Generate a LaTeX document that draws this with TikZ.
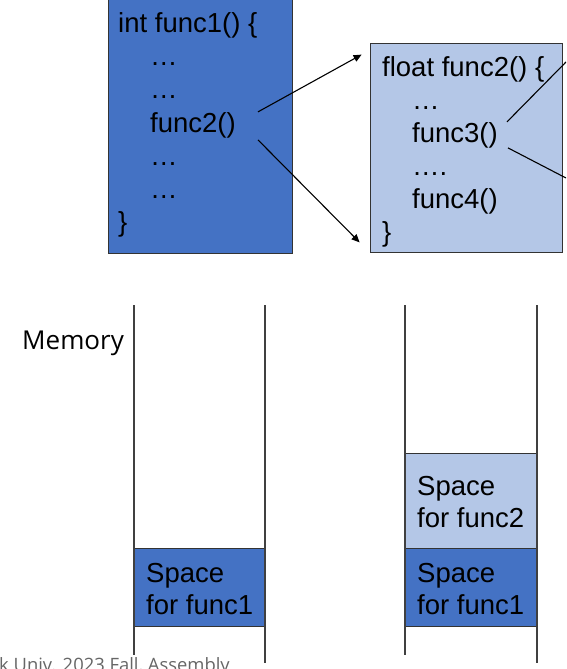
\documentclass[tikz,border=0pt]{standalone}
\usepackage{fontspec}
\setmainfont{Liberation Sans}
\newfontfamily\footfont{Open Sans}
\usetikzlibrary{arrows.meta,calc}
\definecolor{darkblue}{HTML}{4472C4}
\definecolor{lightblue}{HTML}{B4C7E7}
\tikzset{
  codebox/.style={draw=black!80, line width=0.8pt, inner sep=0pt},
  codeline/.style={anchor=base west, inner sep=0pt, font=\fontsize{27.5}{33}\selectfont},
  callarrow/.style={line width=1.1pt, -{Triangle[length=8pt, width=7pt]}},
  stackline/.style={black!75, line width=1.2pt}
}
\begin{document}
\begin{tikzpicture}[x=1pt, y=-1pt]
    \useasboundingbox (0,0) rectangle (566,669);
    \fill[white] (0,0) rectangle (566,669);
    \clip (0,0) rectangle (566,669);
    % code of func1
    \node[codebox, fill=darkblue, minimum width=184pt, minimum height=254pt] (box1) at (200,126) {};
    \node[codeline] (head1) at (118,33) {int func1() \{};
    \node[codeline] (dots1a) at (150,66) {…};
    \node[codeline] (dots1b) at (150,99) {…};
    \node[codeline] (call2) at (150,132) {func2()};
    \node[codeline] (dots1c) at (150,165) {…};
    \node[codeline] (dots1d) at (150,198) {…};
    \node[codeline] (tail1) at (118,231) {\}};
    % code of func2
    \node[codebox, fill=lightblue, minimum width=192pt, minimum height=209pt] (box2) at (466,147.5) {};
    \node[codeline] (head2) at (382,76) {float func2() \{};
    \node[codeline] (dots2a) at (412,109) {…};
    \node[codeline] (call3) at (412,142) {func3()};
    \node[codeline] (dots2b) at (412,175) {….};
    \node[codeline] (call4) at (412,208) {func4()};
    \node[codeline] (tail2) at (382,241) {\}};
    % calls
    \coordinate (in2top) at ($(box2.north west)+(-8,12)$);
    \coordinate (in2bot) at ($(box2.south west)+(-10,-10)$);
    \coordinate (out3top) at (566,62);
    \coordinate (out3bot) at (566,178);
    \draw[callarrow] ([xshift=22pt]call2.north east) -- (in2top);
    \draw[callarrow] ([xshift=22pt, yshift=-2pt]call2.south east) -- (in2bot);
    \draw[line width=1.1pt] ([xshift=9pt]call3.north east) -- (out3top);
    \draw[line width=1.1pt] ([xshift=10pt]call3.south east) -- (out3bot);
    % memory
    \node[anchor=base west, inner sep=0pt, font=\footfont\fontsize{26}{31}\selectfont] (memlabel) at (22,349) {Memory};
    \node[codebox, fill=darkblue, minimum width=131pt, minimum height=78pt] (frameA) at (199.5,587) {};
    \node[codebox, fill=lightblue, minimum width=132pt, minimum height=95pt] (frameB2) at (471,500.5) {};
    \node[codebox, fill=darkblue, minimum width=132pt, minimum height=78pt] (frameB1) at (471,587) {};
    \draw[stackline] (134,305) -- (134,655);
    \draw[stackline] (265,305) -- (265,663);
    \draw[stackline] (405,305) -- (405,655);
    \draw[stackline] (537,305) -- (537,663);
    \node[codeline] (spaceA) at (146,582) {Space};
    \node[codeline] (forA) at (146,614) {for func1};
    \node[codeline] (spaceB2) at (417,495) {Space};
    \node[codeline] (forB2) at (417,527) {for func2};
    \node[codeline] (spaceB1) at (417,582) {Space};
    \node[codeline] (forB1) at (417,614) {for func1};
    % footer
    \node[anchor=base west, inner sep=0pt, black!60, font=\footfont\fontsize{18.4}{22}\selectfont] (footer) at (-1,671) {k Univ. 2023 Fall, Assembly};
\end{tikzpicture}
\end{document}
